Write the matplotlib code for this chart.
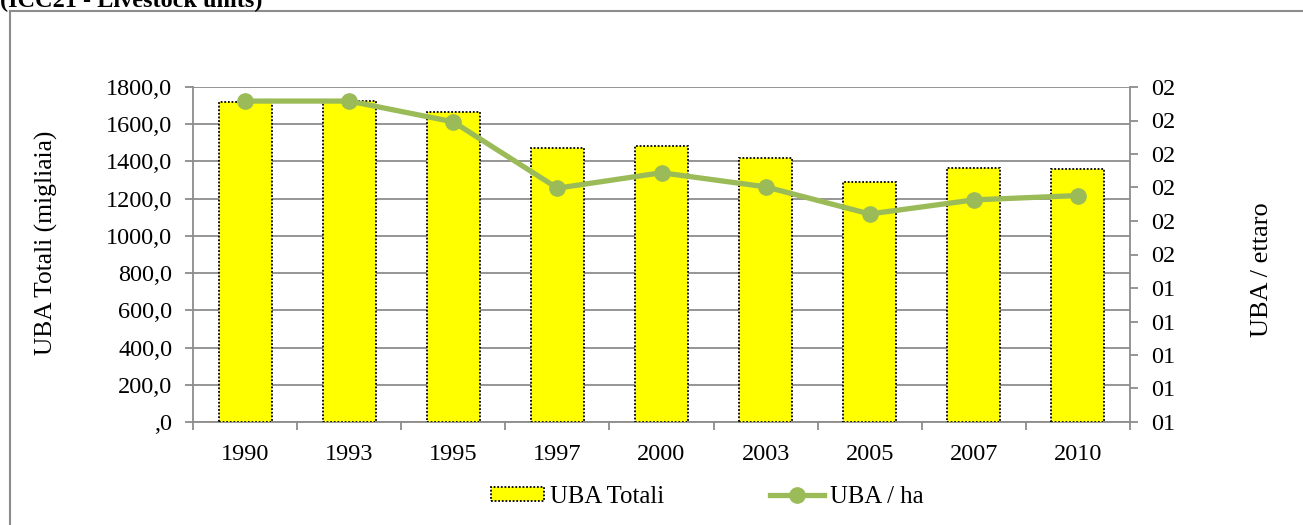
import math
import matplotlib
matplotlib.use("Agg")
import matplotlib.pyplot as plt
from matplotlib.ticker import FuncFormatter, MultipleLocator
from matplotlib.patches import Rectangle
from matplotlib.lines import Line2D

years = ["1990", "1993", "1995", "1997", "2000", "2003", "2005", "2007", "2010"]
uba_totali = [1721, 1725, 1664, 1472, 1483, 1417, 1291, 1366, 1359]
uba_ha = [1.958, 1.958, 1.896, 1.698, 1.744, 1.702, 1.621, 1.663, 1.676]

plt.rcParams['font.family'] = ['Liberation Serif', 'DejaVu Serif']

W, H = 1303, 525
fig = plt.figure(figsize=(W / 100, H / 100), dpi=100)

# outer frame (left and top border lines)
fig.add_artist(Line2D([10 / W, 10 / W], [0, 1 - 11 / H], color='#8c8c8c', lw=1.5, transform=fig.transFigure))
fig.add_artist(Line2D([10 / W, 1], [1 - 11 / H, 1 - 11 / H], color='#8c8c8c', lw=1.5, transform=fig.transFigure))

# clipped title
fig.text(0.0, 1 - 7 / H, "(ICC21 - Livestock units)", fontsize=17.5, fontweight='bold',
         ha='left', va='baseline')

left, right, top, bottom = 193, 1130, 87, 422
ax = fig.add_axes([left / W, 1 - bottom / H, (right - left) / W, (bottom - top) / H])
ax2 = ax.twinx()

x = list(range(len(years)))
ax.bar(x, uba_totali, width=0.51, color='#FFFF00', edgecolor='black', linewidth=1.3,
       linestyle=(0, (1, 1)), zorder=3)
ax.set_xlim(-0.5, len(years) - 0.5)
ax.set_ylim(0, 1800)
ax.yaxis.set_major_locator(MultipleLocator(200))

def lfmt(v, pos):
    s = f"{v:.1f}".replace('.', ',')
    if s.startswith('0,'):
        s = s[1:]
    return s

ax.yaxis.set_major_formatter(FuncFormatter(lfmt))
ax.grid(axis='y', color='#8c8c8c', linewidth=1.3, zorder=0)
ax.set_axisbelow(True)

ax.set_xticks([i + 0.5 for i in range(-1, len(years))])
ax.set_xticklabels([])
ax.set_xticks(x, minor=True)
ax.set_xticklabels(years, minor=True)
ax.tick_params(axis='x', which='minor', length=0, pad=16, labelsize=17.5)
ax.tick_params(axis='x', which='major', length=6, color='#8c8c8c', width=1.3)
ax.tick_params(axis='y', length=6, color='#8c8c8c', width=1.3, labelsize=17.5, pad=9)

for sp in ['top', 'right']:
    ax.spines[sp].set_visible(False)
for sp in ['left', 'bottom']:
    ax.spines[sp].set_color('#8c8c8c')
    ax.spines[sp].set_linewidth(1.3)

ax2.plot(x, uba_ha, color='#9BBB59', linewidth=3.8, marker='o', markersize=11, zorder=4)
ax2.set_ylim(1.0, 2.0)
ax2.yaxis.set_major_locator(MultipleLocator(0.1))

def rfmt(v, pos):
    return f"{int(math.floor(v + 0.5 + 1e-9)):02d}"

ax2.yaxis.set_major_formatter(FuncFormatter(rfmt))
ax2.tick_params(axis='y', length=6, color='#8c8c8c', width=1.3, labelsize=17.5, pad=9)
for sp in ['top', 'left', 'bottom']:
    ax2.spines[sp].set_visible(False)
ax2.spines['right'].set_color('#8c8c8c')
ax2.spines['right'].set_linewidth(1.3)

fig.text(46 / W, 1 - 243 / H, "UBA Totali (migliaia)", rotation=90, fontsize=18.4,
         ha='center', va='center')
fig.text(1262 / W, 1 - 270 / H, "UBA / ettaro", rotation=90, fontsize=19,
         ha='center', va='center')

# legend
bar_h = Rectangle((0, 0), 1, 1, facecolor='#FFFF00', edgecolor='black', linewidth=1.3,
                  linestyle=(0, (1, 1)))
line_h = Line2D([], [], color='#9BBB59', linewidth=3.8, marker='o', markersize=11)
fig.legend([bar_h, line_h], ["UBA Totali", "UBA / ha"], loc='center',
           bbox_to_anchor=(707 / W, 1 - 497 / H), ncol=2, frameon=False, fontsize=17.8,
           handlelength=2.15, handleheight=0.5, handletextpad=0.25, columnspacing=4.3)

fig.savefig("out.png", dpi=100)
